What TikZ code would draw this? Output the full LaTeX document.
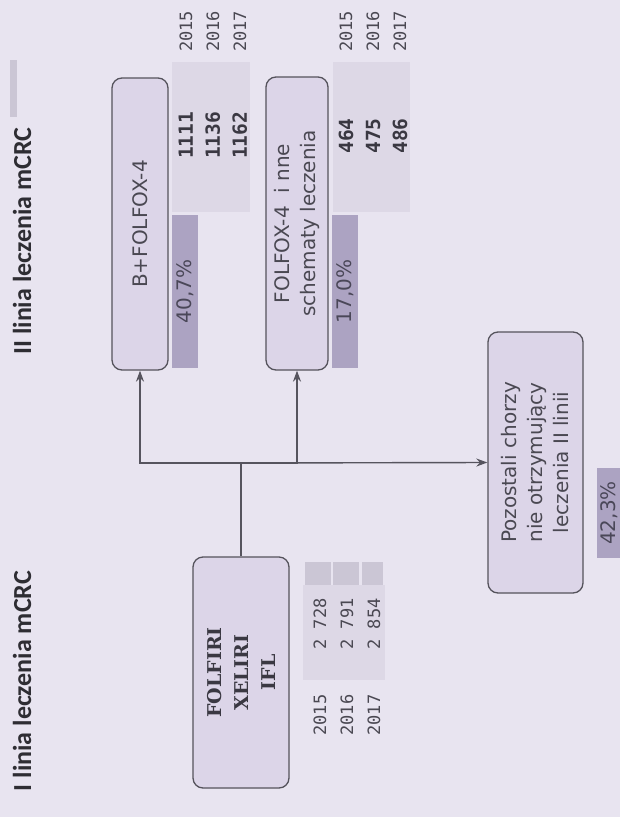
\documentclass[tikz,border=0pt]{standalone}
\usepackage{fontspec}
\setmainfont{DejaVu Sans}
\newfontfamily\serifb{DejaVu Serif}
\newfontfamily\monof{DejaVu Sans Mono}
\newfontfamily\titlef{Carlito}
\usetikzlibrary{arrows.meta}
\definecolor{bg}{HTML}{E8E4F0}
\definecolor{boxfill}{HTML}{DCD5E8}
\definecolor{boxline}{HTML}{55535C}
\definecolor{linec}{HTML}{56545E}
\definecolor{shadefill}{HTML}{DDD8E6}
\definecolor{blockfill}{HTML}{CBC6D5}
\definecolor{badgefill}{HTML}{ACA3C2}
\definecolor{badgetxt}{HTML}{4A4758}
\definecolor{txt}{HTML}{4A4852}
\definecolor{valtxt}{HTML}{3A3842}
\definecolor{ttltxt}{HTML}{2E2D33}
\begin{document}
\begin{tikzpicture}[x=1pt,y=-1pt,
  box/.style={draw=boxline, line width=1.3pt, fill=boxfill, rounded corners=10pt, rotate=90, inner sep=0pt, align=center, text=txt, font=\fontsize{20}{26}\selectfont},
  conn/.style={draw=linec, line width=1.4pt},
  arr/.style={conn, -{Stealth[length=11pt,width=8pt]}},
  badge/.style={fill=badgefill, rotate=90, inner sep=0pt, text=badgetxt, font=\fontsize{20}{24}\selectfont},
  yrs/.style={rotate=90, align=center, inner sep=0pt, font=\monof\fontsize{17}{27}\selectfont, text=txt},
  vals/.style={rotate=90, align=center, inner sep=0pt, font=\monof\bfseries\fontsize{19.5}{27}\selectfont, text=valtxt},
  valsr/.style={rotate=90, align=center, inner sep=0pt, font=\monof\fontsize{17}{27}\selectfont, text=txt},
  ttl/.style={rotate=90, inner sep=0pt, font=\titlef\bfseries\fontsize{26}{30}\selectfont, text=ttltxt}]
\fill[bg] (0,0) rectangle (620,817);
\useasboundingbox (0,0) rectangle (620,817);

% titles
\fill[blockfill] (10,60) rectangle (17,117);
\node[ttl] (t2) at (22,241) {II linia leczenia mCRC};
\node[ttl] (t1) at (22,681) {I linia leczenia mCRC};

% shaded value areas
\fill[shadefill] (172,62) rectangle (250,212);
\fill[shadefill] (333,62) rectangle (410,212);
\fill[shadefill] (303,585) rectangle (385,680);
\fill[blockfill] (305,562) rectangle (331,585);
\fill[blockfill] (333,562) rectangle (359,585);
\fill[blockfill] (362,562) rectangle (383,585);

% boxes
\node[box, minimum width=292pt, minimum height=56pt] (b1) at (140,224) {B+FOLFOX-4};
\node[box, minimum width=293pt, minimum height=62pt] (b2) at (297,223.5) {FOLFOX-4 \ i nne\\schematy leczenia};
\node[box, minimum width=231pt, minimum height=96pt, font=\serifb\bfseries\fontsize{19}{27}\selectfont, text=valtxt] (f) at (241,672.5) {FOLFIRI\\XELIRI\\IFL};
\node[box, minimum width=261pt, minimum height=95pt] (p) at (535.5,462.5) {Pozostali chorzy\\nie otrzymujący\\leczenia II linii};

% badges
\node[badge, minimum width=153pt, minimum height=26pt] (pc1) at (185,291.5) {40,7\%};
\node[badge, minimum width=153pt, minimum height=26pt] (pc2) at (345,291.5) {17,0\%};
\node[badge, minimum width=90pt, minimum height=24pt] (pc3) at (609,513) {42,3\%};

% years and values
\node[yrs] (y1) at (213,31.5) {2015\\2016\\2017};
\node[vals] (v1) at (213,135.5) {1111\\1136\\1162};
\node[yrs] (y2) at (373,31.5) {2015\\2016\\2017};
\node[vals] (v2) at (373,136) {464\\475\\486};
\node[valsr] (v3) at (347,624) {2 728\\2 791\\2 854};
\node[yrs] (y3) at (347,715) {2015\\2016\\2017};

% connectors
\coordinate (j) at (241,463);
\draw[conn] (f.east) -- (j);
\draw[arr] (j) -| (b1.west);
\draw[arr] (j) -| (b2.west);
\draw[arr] (j) -- (p.north);
\end{tikzpicture}
\end{document}
